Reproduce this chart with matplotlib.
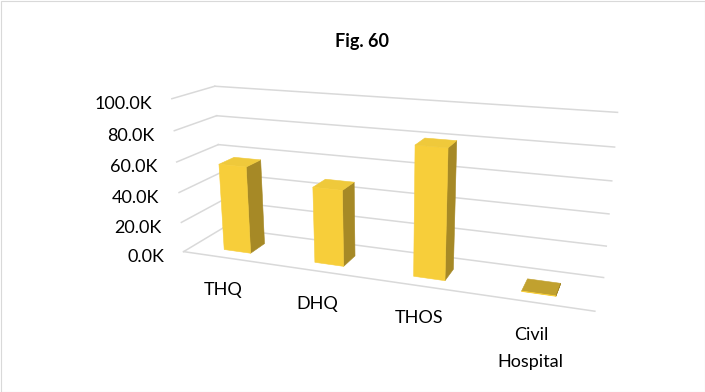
import matplotlib
matplotlib.use("Agg")
import matplotlib.pyplot as plt
from matplotlib import transforms as mtransforms
from matplotlib.patches import Rectangle
from mpl_toolkits.mplot3d import proj3d

# ---- data -------------------------------------------------------------
categories = ["THQ", "DHQ", "THOS", "Civil\nHospital"]
values = [57500, 49000, 80700, 300]
tick_values = [0, 20000, 40000, 60000, 80000, 100000]
title = "Fig. 60"

# ---- style ------------------------------------------------------------
FRONT = "#F7CE3A"
SIDE = "#A68926"
TOP = ["#EFC93B", "#EFC93B", "#EFC93B", "#C1A12F"]
GRID = "#D9D9D9"
CLEAR = (0, 0, 0, 0)
FS = 13

plt.rcParams["font.family"] = ["Lato", "DejaVu Sans"]

fig = plt.figure(figsize=(7.05, 3.92), dpi=100)
FW, FH = 705, 392

# square 3D axes; the box centre lands at (cx, cy) pixels
S = 705
cx, cy = 385, 205
ax = fig.add_axes([(cx - 0.5135 * S) / FW, (cy - 0.5135 * S) / FH, S / FW, S / FH],
                  projection="3d")
ax.set_proj_type("persp", focal_length=0.21)
ax.view_init(elev=16.6, azim=-70)
ax.set_box_aspect((4.62, 0.876, 1.78), zoom=0.644)
ax.set_axis_off()
ax.patch.set_visible(False)
ax.computed_zorder = False

x_lo, x_hi = -0.5, len(categories) - 0.5
ax.set_xlim(x_lo, x_hi)
ax.set_ylim(0, 1)
ax.set_zlim(0, tick_values[-1])

# walls: side gridlines, back gridlines and the floor's front edge
for z in tick_values:
    ax.plot([x_lo, x_lo], [0, 1], [z, z], color=GRID, lw=1.1, zorder=1, clip_on=False)
    ax.plot([x_lo, x_hi], [1, 1], [z, z], color=GRID, lw=1.1, zorder=1, clip_on=False)
ax.plot([x_lo, x_hi], [0, 0], [0, 0], color=GRID, lw=1.1, zorder=1, clip_on=False)

# columns: faces are bottom, top, front, back, left, right
n = len(values)
bw, y0, bd = 0.30, 0.25, 0.38
face_colors = []
for i in range(n):
    face_colors += [CLEAR, TOP[i], FRONT, CLEAR, CLEAR, SIDE]
bars = ax.bar3d([i - bw / 2 for i in range(n)], [y0] * n, [0] * n,
                [bw] * n, [bd] * n, values,
                color=face_colors, edgecolor=face_colors, linewidth=0.4,
                shade=False, zorder=3)
bars.set_clip_on(False)

M = ax.get_proj()


def screen_xy(x, y, z):
    """Project a 3D data point to the 2D data space of the axes."""
    px, py, _ = proj3d.proj_transform(x, y, z, M)
    return float(px), float(py)


# value axis labels along the front edge of the side wall
tick_off = mtransforms.offset_copy(ax.transData, fig=fig, x=-19.5, y=-10.5, units="dots")
for z in tick_values:
    px, py = screen_xy(x_lo, 0, z)
    ax.text2D(px, py, f"{z / 1000:.1f}K", transform=tick_off,
              ha="right", va="baseline", fontsize=FS, zorder=4)

# category labels in front of the floor
cat_off = mtransforms.offset_copy(ax.transData, fig=fig, x=-4, y=-24, units="dots")
for i, c in enumerate(categories):
    px, py = screen_xy(i, 0, 0)
    ax.text2D(px, py, c, transform=cat_off, ha="center", va="top",
              fontsize=FS, linespacing=1.9, zorder=4)

fig.text(362 / FW, 1 - 47 / FH, title, ha="center", va="baseline",
         fontsize=13, fontweight="bold")

fig.add_artist(Rectangle((0.5 / FW, 0.5 / FH), 1 - 1 / FW, 1 - 1 / FH,
                         transform=fig.transFigure, fill=False,
                         edgecolor=GRID, lw=0.8))

fig.savefig("out.png", dpi=100)
